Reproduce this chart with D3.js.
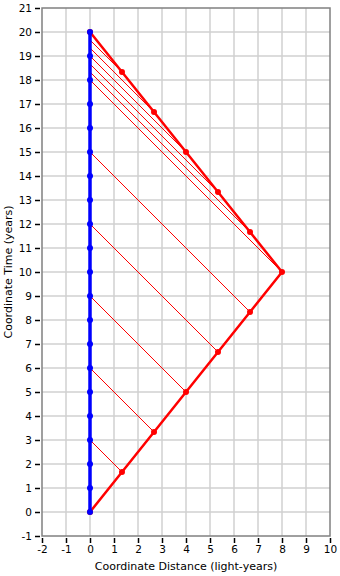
<!DOCTYPE html>
<html>
<head>
<meta charset="utf-8">
<script src="https://cdn.jsdelivr.net/npm/d3@7"></script>
<style>
  body { margin: 0; background: #fff; }
  text { font-family: "DejaVu Sans", sans-serif; font-size: 11px; fill: #000; }
</style>
</head>
<body>
<div id="chart-area"></div>
<script>
// data
var earthTimes = [0, 1, 2, 3, 4, 5, 6, 7, 8, 9, 10, 11, 12, 13, 14, 15, 16, 17, 18, 19, 20];
var travelerX = [0, 1.333, 2.667, 4, 5.333, 6.667, 8, 6.667, 5.333, 4, 2.667, 1.333, 0];
var travelerT = [0, 1.667, 3.333, 5, 6.667, 8.333, 10, 11.667, 13.333, 15, 16.667, 18.333, 20];
var xTicks = [-2, -1, 0, 1, 2, 3, 4, 5, 6, 7, 8, 9, 10];
var yTicks = [-1, 0, 1, 2, 3, 4, 5, 6, 7, 8, 9, 10, 11, 12, 13, 14, 15, 16, 17, 18, 19, 20, 21];

var svg_width = 340, svg_height = 576;
var margin = { top: 8, right: 10, bottom: 40, left: 42 };

var svg = d3.select("#chart-area").append("svg")
    .attr("width", svg_width)
    .attr("height", svg_height);

var x = d3.scaleLinear().domain([-2, 10]).range([margin.left, svg_width - margin.right]);
var y = d3.scaleLinear().domain([-1, 21]).range([svg_height - margin.bottom, margin.top]);

// grid
svg.append("g").selectAll("line").data(xTicks.slice(1, -1)).enter().append("line")
    .attr("x1", d => x(d)).attr("x2", d => x(d))
    .attr("y1", y(-1)).attr("y2", y(21))
    .attr("stroke", "#d0d0d0").attr("stroke-width", 1.5);
svg.append("g").selectAll("line").data(yTicks.slice(1, -1)).enter().append("line")
    .attr("y1", d => y(d)).attr("y2", d => y(d))
    .attr("x1", x(-2)).attr("x2", x(10))
    .attr("stroke", "#d0d0d0").attr("stroke-width", 1.5);

// frame
svg.append("rect")
    .attr("x", x(-2)).attr("y", y(21))
    .attr("width", x(10) - x(-2)).attr("height", y(-1) - y(21))
    .attr("fill", "none").attr("stroke", "#808080").attr("stroke-width", 1.5);

// axes
var xAxis = d3.axisBottom(x).tickValues(xTicks).tickSize(5).tickPadding(3).tickFormat(d => String(d));
var yAxis = d3.axisLeft(y).tickValues(yTicks).tickSize(5).tickPadding(3).tickFormat(d => String(d));

var gx = svg.append("g").attr("transform", "translate(0," + (y(-1) + 2) + ")").call(xAxis);
var gy = svg.append("g").attr("transform", "translate(" + (x(-2) - 2) + ",0)").call(yAxis);
[gx, gy].forEach(function (g) {
    g.select(".domain").remove();
    g.selectAll(".tick line").attr("stroke", "#000").attr("stroke-width", 1.5);
    g.selectAll(".tick text").style("font-family", "DejaVu Sans").style("font-size", "10.5px");
});

// light signals from traveler back to earth
var signals = travelerX.map(function (d, i) { return { x: d, t: travelerT[i] }; })
    .filter(function (d) { return d.x > 0; });
svg.append("g").selectAll("line").data(signals).enter().append("line")
    .attr("x1", d => x(d.x)).attr("y1", d => y(d.t))
    .attr("x2", x(0)).attr("y2", d => y(d.t + d.x))
    .attr("stroke", "#ff0000").attr("stroke-width", 1);

// traveler
var line = d3.line().x((d, i) => x(travelerX[i])).y((d, i) => y(travelerT[i]));
svg.append("path").datum(travelerX)
    .attr("d", line).attr("fill", "none")
    .attr("stroke", "#ff0000").attr("stroke-width", 2.5);
svg.append("g").selectAll("circle").data(travelerX).enter().append("circle")
    .attr("cx", d => x(d)).attr("cy", (d, i) => y(travelerT[i]))
    .attr("r", 3).attr("fill", "#ff0000");

// earth
svg.append("line")
    .attr("x1", x(0)).attr("x2", x(0))
    .attr("y1", y(0)).attr("y2", y(20))
    .attr("stroke", "#0000ff").attr("stroke-width", 3.5);
svg.append("g").selectAll("circle").data(earthTimes).enter().append("circle")
    .attr("cx", x(0)).attr("cy", d => y(d))
    .attr("r", 3).attr("fill", "#0000ff");

// labels
svg.append("text")
    .attr("x", (x(-2) + x(10)) / 2).attr("y", 570)
    .attr("text-anchor", "middle")
    .text("Coordinate Distance (light-years)");
svg.append("text")
    .attr("transform", "translate(12," + ((y(-1) + y(21)) / 2) + ") rotate(-90)")
    .attr("text-anchor", "middle")
    .text("Coordinate Time (years)");
</script>
</body>
</html>
